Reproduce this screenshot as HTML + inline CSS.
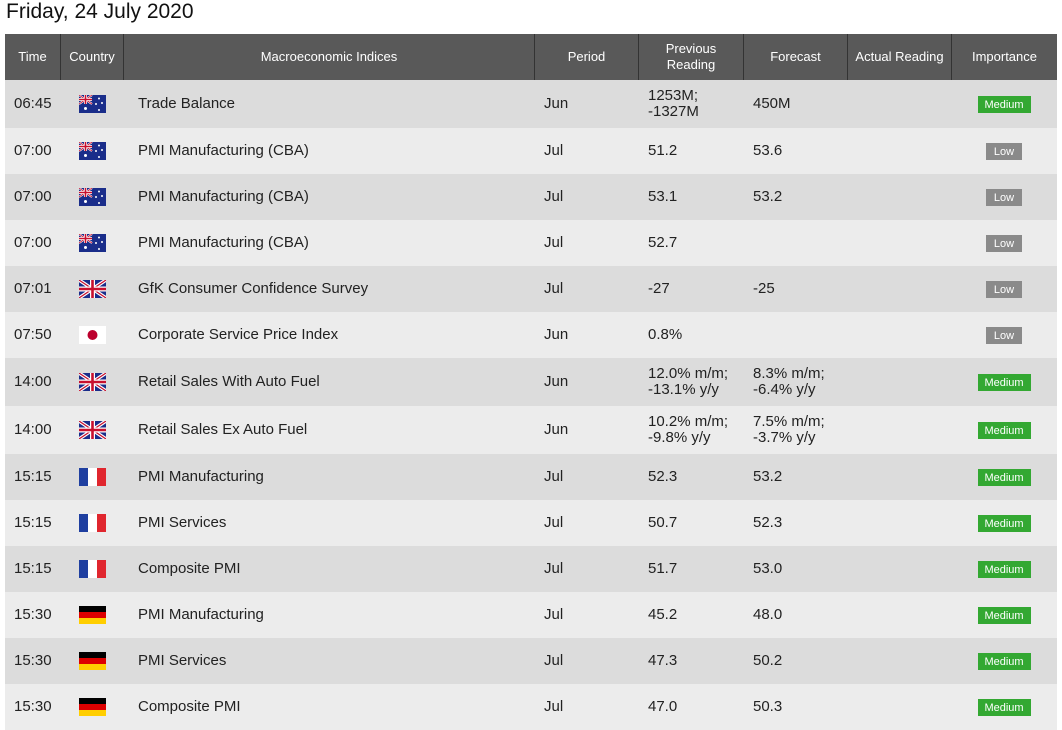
<!DOCTYPE html>
<html><head><meta charset="utf-8">
<style>
body{margin:0;width:1062px;height:727px;background:#fff;font-family:"Liberation Sans",Arial,sans-serif;overflow:hidden;position:relative}
.title{position:absolute;left:6px;top:0px;font-size:21px;color:#111}
.hdr{position:absolute;top:34px;height:46px;background:#595959;color:#fff;font-size:13px;display:flex;align-items:center;justify-content:center;text-align:center;line-height:16px;box-sizing:border-box;border-right:1px solid #333}
.row{position:absolute;left:5px;width:1052px}
.cell{position:absolute;top:0;height:100%;display:flex;align-items:center;font-size:15px;color:#222;line-height:16px}
.badge{position:absolute;height:17px;line-height:18px;color:#fff;font-size:11px;text-align:center}
</style></head><body>
<div class="title">Friday, 24 July 2020</div>
<div id="root"></div>
<script>
const cols=[5,61,124,535,639,744,848,952,1057];
const headers=["Time","Country","Macroeconomic Indices","Period","Previous<br>Reading","Forecast","Actual Reading","Importance"];
const times=["06:45","07:00","07:00","07:00","07:01","07:50","14:00","14:00","15:15","15:15","15:15","15:30","15:30","15:30"];
const countries=["au","au","au","au","gb","jp","gb","gb","fr","fr","fr","de","de","de"];
const indices=["Trade Balance","PMI Manufacturing (CBA)","PMI Manufacturing (CBA)","PMI Manufacturing (CBA)","GfK Consumer Confidence Survey","Corporate Service Price Index","Retail Sales With Auto Fuel","Retail Sales Ex Auto Fuel","PMI Manufacturing","PMI Services","Composite PMI","PMI Manufacturing","PMI Services","Composite PMI"];
const periods=["Jun","Jul","Jul","Jul","Jul","Jun","Jun","Jun","Jul","Jul","Jul","Jul","Jul","Jul"];
const prevs=["1253M;<br>-1327M","51.2","53.1","52.7","-27","0.8%","12.0% m/m;<br>-13.1% y/y","10.2% m/m;<br>-9.8% y/y","52.3","50.7","51.7","45.2","47.3","47.0"];
const fcs=["450M","53.6","53.2","","-25","","8.3% m/m;<br>-6.4% y/y","7.5% m/m;<br>-3.7% y/y","53.2","52.3","53.0","48.0","50.2","50.3"];
const imps=["Medium","Low","Low","Low","Low","Low","Medium","Medium","Medium","Medium","Medium","Medium","Medium","Medium"];
const rowTops=[80,128,174,220,266,312,358,406,454,500,546,592,638,684,730];
const flags={
au:'<svg width="27" height="18" viewBox="0 0 27 18"><rect width="27" height="18" fill="#1a2d8a"/><rect width="13" height="9" fill="#1a2d8a"/><path d="M0 0L13 9M13 0L0 9" stroke="#fff" stroke-width="2"/><path d="M0 0L13 9M13 0L0 9" stroke="#c8102e" stroke-width="0.8"/><path d="M6.5 0V9M0 4.5H13" stroke="#fff" stroke-width="3"/><path d="M6.5 0V9M0 4.5H13" stroke="#c8102e" stroke-width="1.6"/><circle cx="6.5" cy="13.5" r="1.5" fill="#fff"/><circle cx="20" cy="3.5" r="1" fill="#fff"/><circle cx="23" cy="8" r="1" fill="#fff"/><circle cx="17" cy="9" r="1" fill="#fff"/><circle cx="20" cy="15" r="1" fill="#fff"/></svg>',
gb:'<svg width="27" height="18" viewBox="0 0 27 18"><rect width="27" height="18" fill="#1a2d8a"/><path d="M0 0L27 18M27 0L0 18" stroke="#fff" stroke-width="3.5"/><path d="M0 0L27 18M27 0L0 18" stroke="#c8102e" stroke-width="1.2"/><path d="M13.5 0V18M0 9H27" stroke="#fff" stroke-width="5"/><path d="M13.5 0V18M0 9H27" stroke="#c8102e" stroke-width="2.6"/></svg>',
jp:'<svg width="27" height="18" viewBox="0 0 27 18"><rect width="27" height="18" fill="#fff"/><circle cx="13.5" cy="9" r="5" fill="#bc002d"/></svg>',
fr:'<svg width="27" height="18" viewBox="0 0 27 18"><rect width="9" height="18" fill="#1f3fa0"/><rect x="9" width="9" height="18" fill="#fff"/><rect x="18" width="9" height="18" fill="#e0262e"/></svg>',
de:'<svg width="27" height="18" viewBox="0 0 27 18"><rect width="27" height="6" fill="#000"/><rect y="6" width="27" height="6" fill="#dd0000"/><rect y="12" width="27" height="6" fill="#ffce00"/></svg>'};
const root=document.getElementById('root');
const hnames=["time","country","indices","period","previous-reading","forecast","actual-reading","importance"];
headers.forEach((h,i)=>{const d=document.createElement('div');d.className='hdr';d.style.left=cols[i]+'px';d.style.width=(cols[i+1]-cols[i])+'px';if(i==7)d.style.borderRight='none';d.innerHTML=h;


root.appendChild(d);});
times.forEach((t,r)=>{
const row=document.createElement('div');row.className='row';


row.style.top=rowTops[r]+'px';row.style.height=(rowTops[r+1]-rowTops[r])+'px';row.style.background=r%2==0?'#dcdcdc':'#ececec';
const add=(x,w,html,name)=>{const c=document.createElement('div');c.className='cell';c.style.left=(x-5)+'px';c.style.width=w+'px';c.innerHTML=html;


row.appendChild(c);};
add(14,45,t,'time-cell');
add(79,27,flags[countries[r]],'country-flag');
add(138,390,indices[r],'index-name');
add(544,90,periods[r],'period-cell');
add(648,95,prevs[r],'previous-reading-cell');
add(753,95,fcs[r],'forecast-cell');
const b=document.createElement('div');b.className='badge';


const med=imps[r]=='Medium';const w=med?53:36;b.style.width=w+'px';b.style.left=(1004-5-w/2)+'px';b.style.background=med?'#33a832':'#8a8a8a';b.style.top=((rowTops[r+1]-rowTops[r])/2-8)+'px';b.textContent=imps[r];row.appendChild(b);
root.appendChild(row);});
</script>
</body></html>
